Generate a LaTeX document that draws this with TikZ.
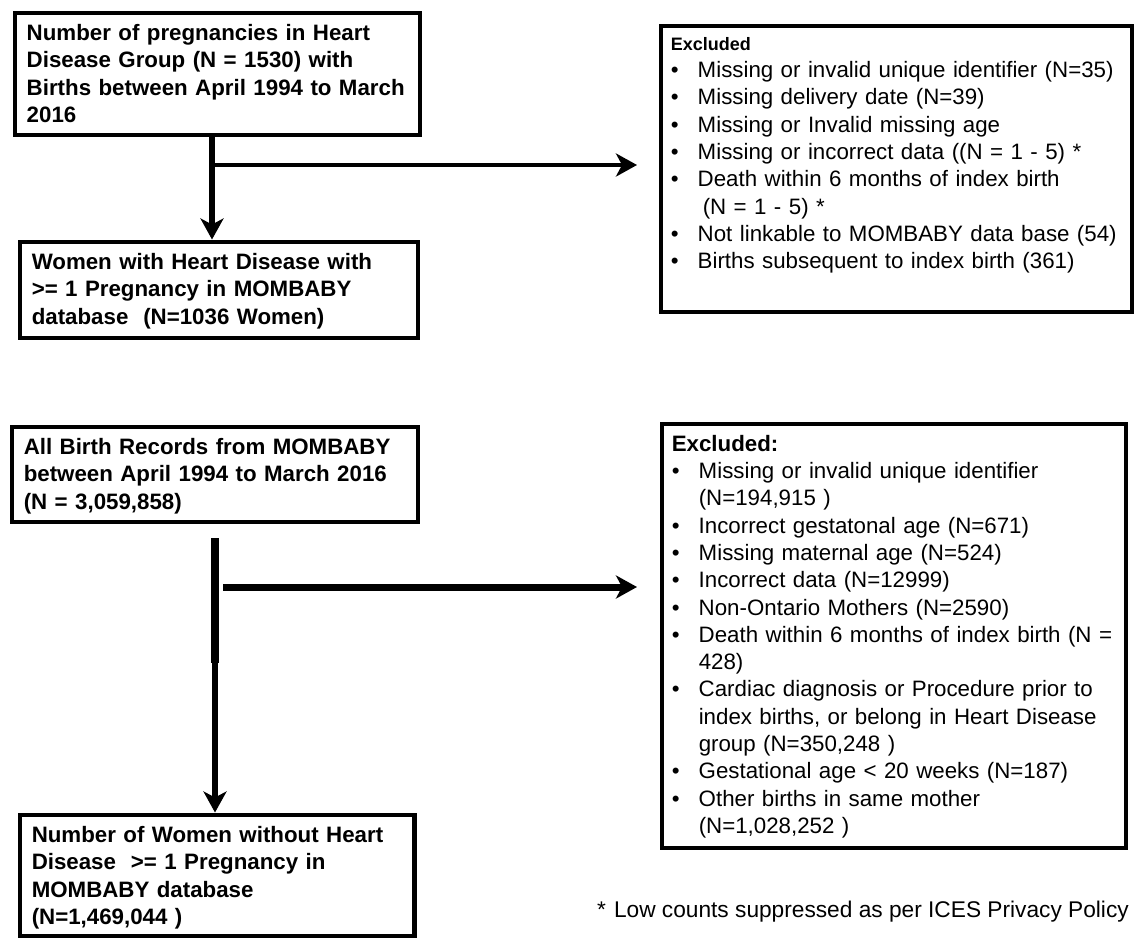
\documentclass[tikz,border=0pt]{standalone}
\usepackage{fontspec}
\setmainfont{Liberation Sans}
\usetikzlibrary{arrows.meta,positioning}

\tikzset{
  flowbox/.style={draw,line width=4.5pt,anchor=north west,inner xsep=12pt,inner ysep=10.5pt,
    text height=17pt,align=left,font=\fontsize{22.3}{27.5}\selectfont\bfseries},
  exbox/.style={draw,line width=3.5pt,anchor=north west,inner xsep=10pt,inner ysep=10.5pt,
    text height=17pt,align=left,font=\fontsize{22.3}{27.3}\selectfont},
  flowarrow/.style={-{Stealth[length=21pt,width=23pt,inset=6pt]}},
}
\newcommand{\exitem}[1]{\par\hangindent=27pt\hangafter=1\rightskip=0pt plus 1fil minus 30pt
  \noindent\makebox[27pt][l]{\textbullet}#1\par}

\begin{document}
\begin{tikzpicture}[x=1pt,y=-1pt]
  \useasboundingbox (0,0) rectangle (1135,937);

  % heart disease group
  \node (hd) at (12.5,10.5) [flowbox,text width=381pt,text depth=84pt]
    {Number of pregnancies in Heart\\Disease Group (N = 1530) with\\Births between April 1994 to March\\2016};
  \node (hdw) at (17.5,239.5) [flowbox,text width=374pt,text depth=58pt]
    {Women with Heart Disease with\\>= 1 Pregnancy in MOMBABY\\database\ \ (N=1036 Women)};
  \node (ex1) at (659,24) [exbox,text width=451pt,text height=14pt,text depth=251pt]
    {{\fontsize{18}{27}\selectfont\bfseries Excluded}
     \exitem{Missing or invalid unique identifier (N=35)}
     \exitem{Missing delivery date (N=39)}
     \exitem{Missing or Invalid missing age}
     \exitem{Missing or incorrect data ((N = 1 - 5) *}
     \exitem{Death within 6 months of index birth\newline\hspace*{5pt}(N = 1 - 5) *}
     \exitem{Not linkable to MOMBABY data base (54)}
     \exitem{Births subsequent to index birth (361)}};

  % all other births
  \node (all) at (9.5,424.5) [flowbox,text width=382pt,text depth=57pt]
    {All Birth Records from MOMBABY\\between April 1994 to March 2016\\(N = 3,059,858)};
  \node (nohd) at (17.5,812.5) [flowbox,text width=370.5pt,text depth=83.5pt]
    {Number of Women without Heart\\Disease\ \ >= 1 Pregnancy in\\MOMBABY database\\(N=1,469,044 )};
  \node (ex2) at (660,422) [exbox,text width=444pt,text depth=386pt]
    {{\bfseries Excluded:}
     \exitem{Missing or invalid unique identifier\newline(N=194,915 )}
     \exitem{Incorrect gestatonal age (N=671)}
     \exitem{Missing maternal age (N=524)}
     \exitem{Incorrect data (N=12999)}
     \exitem{Non-Ontario Mothers (N=2590)}
     \exitem{Death within 6 months of index birth (N =\newline428)}
     \exitem{Cardiac diagnosis or Procedure prior to\newline index births, or belong in Heart Disease\newline group (N=350,248 )}
     \exitem{Gestational age < 20 weeks (N=187)}
     \exitem{Other births in same mother\newline(N=1,028,252 )}};

  \node (note) at (597,917) [anchor=base west,inner sep=0pt,font=\fontsize{22.7}{27}\selectfont]
    {*\hspace{8pt}Low counts suppressed as per ICES Privacy Policy};

  % connectors
  \coordinate (s1) at (212,165);
  \draw[flowarrow,line width=6pt] (s1 |- hd.south) -- (s1 |- hdw.north);
  \draw[flowarrow,line width=4.5pt] (s1) -- ([xshift=-22pt]s1 -| ex1.west);

  \coordinate (s2) at (215,538);
  \coordinate (k2) at (215,663);
  \coordinate (b2) at (223,587);
  \draw[line width=7.5pt] (s2) -- (k2);
  \draw[flowarrow,line width=6pt] (k2) -- (k2 |- nohd.north);
  \draw[flowarrow,line width=7pt] (b2) -- ([xshift=-23pt]b2 -| ex2.west);
\end{tikzpicture}
\end{document}
